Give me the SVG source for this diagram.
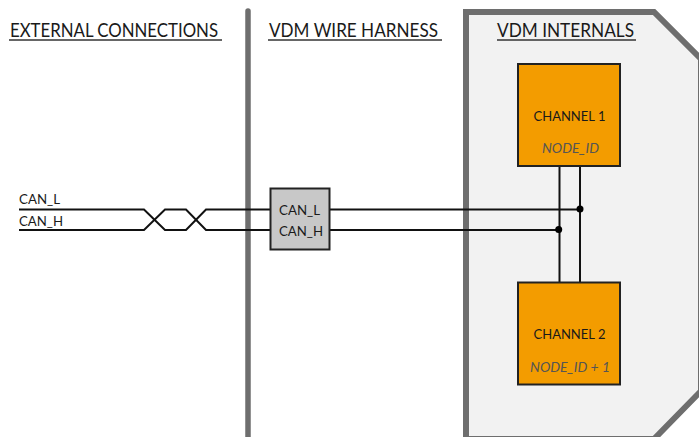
<svg xmlns="http://www.w3.org/2000/svg" width="699" height="437" viewBox="0 0 699 437">
<style>
text{font-family:"Lato","Open Sans",sans-serif;fill:#1a1a1a}
.h{font-size:19.500px}
.u{stroke:#333;stroke-width:1.5;fill:none}
.w{stroke:#111;stroke-width:2;fill:none}
.c{fill:#f39c00;stroke:#222;stroke-width:2}
.t{font-size:14px;text-anchor:middle}
.i{font-size:14px;text-anchor:middle;font-style:italic;fill:#555}
.s{font-size:14px}
</style>
<rect width="699" height="437" fill="#fff"/>
<g id="divider"><line x1="248" y1="11" x2="248" y2="437" stroke="#6e6e6e" stroke-width="5.500" stroke-linecap="round"/></g>
<g id="vdm-internals">
<path d="M466 439V12H654L701 59V391L654 439Z" fill="#f2f2f2" stroke="#6e6e6e" stroke-width="6"/>
<text class="h" x="497" y="37" textLength="137" lengthAdjust="spacingAndGlyphs">VDM INTERNALS</text>
<line class="u" x1="497" y1="40" x2="636" y2="40"/>
</g>
<g id="external-title"><text class="h" x="10" y="37" textLength="208" lengthAdjust="spacingAndGlyphs">EXTERNAL CONNECTIONS</text><line class="u" x1="9" y1="40" x2="222" y2="40"/></g>
<g id="harness-title"><text class="h" x="269" y="37" textLength="169" lengthAdjust="spacingAndGlyphs">VDM WIRE HARNESS</text><line class="u" x1="268" y1="40" x2="442" y2="40"/></g>
<g id="connectors">
<path class="w" d="M19 209.500H144L165 230H186L206 209.500H270M330 209.500H580"/>
<path class="w" d="M19 230H144L165 209.500H186L206 230H270M330 230H559"/>
<path class="w" d="M559.500 166V282M580 166V282"/>
<circle cx="580" cy="209" r="3.500" fill="#000"/>
<circle cx="558.700" cy="229.500" r="3.500" fill="#000"/>
</g>
<g id="label-can-l"><text class="s" x="19" y="204" textLength="41" lengthAdjust="spacingAndGlyphs">CAN_L</text></g>
<g id="label-can-h"><text class="s" x="19" y="225.500" textLength="44" lengthAdjust="spacingAndGlyphs">CAN_H</text></g>
<g id="harness-connector">
<rect x="270.500" y="188.500" width="59" height="61" fill="#c8c8c8" stroke="#222" stroke-width="2"/>
<text class="s" x="279" y="215" textLength="41" lengthAdjust="spacingAndGlyphs">CAN_L</text>
<text class="s" x="279" y="236" textLength="44" lengthAdjust="spacingAndGlyphs">CAN_H</text>
</g>
<g id="channel-1">
<rect class="c" x="518" y="64" width="102" height="102"/>
<text class="t" x="569.500" y="120.500" textLength="72" lengthAdjust="spacingAndGlyphs">CHANNEL 1</text>
<text class="i" x="570.500" y="153" textLength="57" lengthAdjust="spacingAndGlyphs">NODE_ID</text>
</g>
<g id="channel-2">
<rect class="c" x="518" y="282.500" width="102" height="102"/>
<text class="t" x="569.500" y="339" textLength="72" lengthAdjust="spacingAndGlyphs">CHANNEL 2</text>
<text class="i" x="570" y="371.500" textLength="80" lengthAdjust="spacingAndGlyphs">NODE_ID + 1</text>
</g>
</svg>
